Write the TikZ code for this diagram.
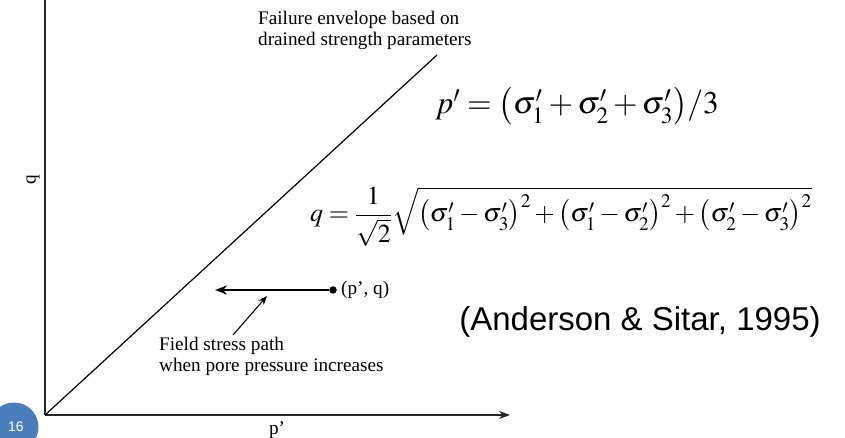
\documentclass[tikz,border=0pt]{standalone}
\usepackage{amsmath}
\usepackage{mathptmx}
\usepackage[no-math]{fontspec}
\setmainfont{Liberation Serif}
\newfontfamily\arialfont{Liberation Sans}
\usetikzlibrary{arrows.meta}
\definecolor{slideblue}{HTML}{4A7EBB}

\begin{document}
\begin{tikzpicture}[x=1pt,y=-1pt,
  axis/.style={line width=1.6pt,draw=black!85},
  arrow/.style={-{Stealth[length=12pt,width=9pt]},line width=1.9pt},
  lbl/.style={font=\fontsize{19.2}{21}\selectfont,inner sep=0pt,align=left},
  eqn/.style={font=\fontsize{26}{30}\selectfont,inner sep=0pt},
  cite/.style={font=\arialfont\fontsize{33}{36}\selectfont,inner sep=0pt}
]
\useasboundingbox (0,0) rectangle (845,438);
% axes
\coordinate (O) at (45,415);
\coordinate (ytop) at (45,0);
\coordinate (xend) at (510,415);
\draw[axis] (ytop) -- (O);
\draw[axis,-{Stealth[length=11pt,width=8pt]}] (O) -- (xend);
\node[lbl,rotate=90] (qlab) at (33,180) {q};
\node[lbl] (plab) at (277,430) {p'};
% failure envelope
\coordinate (envtop) at (437,55);
\draw[line width=1.2pt] (O) -- (envtop);
\node[lbl,anchor=north west] (envlab) at (258,11) {Failure envelope based on\\drained strength parameters};
% stress path
\node[circle,fill=black,inner sep=0pt,minimum size=7.5pt] (pt) at (333,290) {};
\coordinate (ptend) at (215,290);
\draw[arrow] (pt) -- (ptend);
\node[lbl,anchor=west] (ptlab) at (341,290) {(p', q)};
\node[lbl,anchor=north west] (pathlab) at (159,337) {Field stress path\\when pore pressure increases};
\coordinate (ptr) at (233,335);
\draw[-{Stealth[length=9pt,width=7pt]},line width=1.1pt] (ptr) -- (267,296);
% equations
\node[eqn,font=\fontsize{31.5}{35}\selectfont,anchor=base west] (peq) at (435,114) {$p'=\bigl(\sigma_1'+\sigma_2'+\sigma_3'\bigr)/3$};
\node[eqn,anchor=base west] (qeq) at (310,222) {$q=\dfrac{1}{\sqrt{2}}\sqrt{\bigl(\sigma_1'-\sigma_3'\bigr)^2+\bigl(\sigma_1'-\sigma_2'\bigr)^2+\bigl(\sigma_2'-\sigma_3'\bigr)^2}$};
\node[cite] (src) at (640,322) {(Anderson \& Sitar, 1995)};
% page number
\node[circle,fill=slideblue,minimum size=49pt,inner sep=0pt] (pg) at (14,427) {};
\node[text=white,font=\arialfont\fontsize{14}{14}\selectfont,inner sep=0pt] (pgnum) at (16,427) {16};
\end{tikzpicture}
\end{document}
